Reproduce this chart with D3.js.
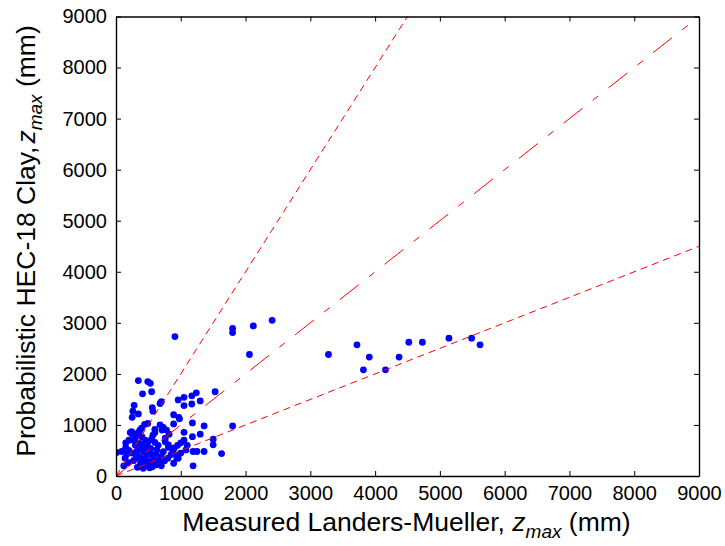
<!DOCTYPE html>
<html>
<head>
<meta charset="utf-8">
<script src="https://cdn.jsdelivr.net/npm/d3@7/dist/d3.min.js"></script>
<style>
  html, body { margin: 0; padding: 0; background: #fff; }
  svg { display: block; font-family: "Liberation Sans", Arial, Helvetica, sans-serif; }
</style>
</head>
<body>
<svg id="chart" width="725" height="546"></svg>
<script>
// Measured (Landers-Mueller) vs probabilistic HEC-18 clay scour depth, mm
const measured = [
  3280, 3720, 3910, 3820, 4160, 4370, 4520, 4730, 5140, 5490, 5620,
  1800, 1800, 2120, 2410, 910, 2060, 1530, 1800, 1630, 1500, 1500, 1360, 1360, 1300, 1180, 1190, 1250, 1190, 1080,
  1240, 1170, 960, 1050, 1300, 1170, 1050, 890, 970, 980, 1180, 890, 1050,
  345, 490, 530, 410, 550, 700, 680, 280, 560, 570, 260, 345, 250, 440, 490, 600, 370, 680, 220, 400, 760, 760, 280, 810, 810, 150, 10, 90, 490, 535, 630, 730, 940, 960, 890, 700, 140, 190, 120,
  395, 360, 330, 240, 710, 600, 570,
  300, 350, 400, 450, 500, 550, 600, 650, 450, 380, 320, 250, 200, 170, 430, 480, 520, 560, 620, 700,
  660, 600, 540, 480, 420, 360, 310, 270, 380, 440, 500, 560, 620, 700, 750, 800, 850, 880, 900, 950,
  1000, 1050, 820, 780, 730, 250, 300, 200, 150, 1100, 1000, 950, 420, 520, 330
];
const predicted = [
  2380, 2570, 2330, 2080, 2080, 2330, 2620, 2620, 2700, 2700, 2570,
  2890, 2810, 2940, 3050, 2730, 2380, 1650, 980, 440, 720, 610, 980, 480, 820, 770, 200, 480, 480, 510,
  1630, 1570, 1490, 1540, 1470, 1410, 1380, 1200, 1150, 1120, 1040, 1020, 855,
  1870, 1850, 1815, 1610, 1650, 1455, 1420, 1385, 1340, 1270, 1270, 1215, 1150, 1010, 1030, 915, 900, 1000, 850, 770, 740, 670, 690, 610, 560, 560, 460, 480, 575, 540, 510, 475, 350, 350, 250, 200, 350, 260, 200,
  935, 870, 835, 870, 900, 850, 800,
  600, 650, 620, 700, 680, 720, 660, 600, 560, 520, 480, 450, 500, 430, 470, 420, 450, 400, 440, 380,
  320, 300, 280, 300, 340, 380, 350, 300, 250, 220, 200, 180, 220, 260, 300, 350, 420, 480, 550, 600,
  650, 700, 820, 900, 950, 820, 760, 700, 650, 600, 450, 400, 150, 160, 170
];

// Reference lines: predicted = ratio * measured
const ratios = [2, 1, 0.5];
const ratioDash = ["7,5", "24,13,7,13", "7,5"];

const xTicks = [0, 1000, 2000, 3000, 4000, 5000, 6000, 7000, 8000, 9000];
const yTicks = [0, 1000, 2000, 3000, 4000, 5000, 6000, 7000, 8000, 9000];

const svg = d3.select("#chart");
const plotL = 116, plotR = 699, plotT = 16.5, plotB = 476;

const x = d3.scaleLinear().domain([0, 9000]).range([plotL, plotR]);
const y = d3.scaleLinear().domain([0, 9000]).range([plotB, plotT]);

svg.append("defs").append("clipPath").attr("id", "plotClip")
  .append("rect").attr("x", plotL).attr("y", plotT)
  .attr("width", plotR - plotL).attr("height", plotB - plotT);

// Scatter points
const pts = measured.map((m, i) => ({ m, p: predicted[i] }));
svg.append("g").attr("clip-path", "url(#plotClip)")
  .selectAll("circle").data(pts).join("circle")
  .attr("cx", d => x(d.m)).attr("cy", d => y(d.p))
  .attr("r", 3.4).attr("fill", "#0000ff");

// Ratio lines
const lineGen = d3.line().x(d => x(d[0])).y(d => y(d[1]));
svg.append("g").attr("clip-path", "url(#plotClip)")
  .selectAll("path").data(ratios).join("path")
  .attr("d", r => lineGen([[0, 0], [9000, 9000 * r]]))
  .attr("fill", "none").attr("stroke", "#ff0000").attr("stroke-width", 1)
  .attr("stroke-dasharray", (r, i) => ratioDash[i]);

// Axes with inward ticks on all four sides
const tickFont = "20px";
const axB = svg.append("g").attr("transform", `translate(0,${plotB})`)
  .call(d3.axisBottom(x).tickValues(xTicks).tickSizeInner(-5).tickSizeOuter(0).tickPadding(10).tickFormat(d3.format("d")));
const axT = svg.append("g").attr("transform", `translate(0,${plotT})`)
  .call(d3.axisTop(x).tickValues(xTicks).tickSizeInner(-5).tickSizeOuter(0).tickFormat(""));
const axL = svg.append("g").attr("transform", `translate(${plotL},0)`)
  .call(d3.axisLeft(y).tickValues(yTicks).tickSizeInner(-5).tickSizeOuter(0).tickPadding(9).tickFormat(d3.format("d")));
const axR = svg.append("g").attr("transform", `translate(${plotR},0)`)
  .call(d3.axisRight(y).tickValues(yTicks).tickSizeInner(-5).tickSizeOuter(0).tickFormat(""));

[axB, axT, axL, axR].forEach(a => {
  a.select(".domain").attr("stroke", "#000").attr("stroke-width", 1.4);
  a.selectAll(".tick line").attr("stroke", "#000").attr("stroke-width", 1);
  a.selectAll("text").attr("fill", "#000").style("font-size", tickFont)
    .style("font-family", "'Liberation Sans', Arial, sans-serif");
});

// Axis titles
const xt = svg.append("text").attr("x", (plotL + plotR) / 2 - 1).attr("y", 531)
  .attr("text-anchor", "middle").style("font-size", "26.5px").attr("fill", "#000");
xt.append("tspan").text("Measured Landers-Mueller, ");
xt.append("tspan").text("z").style("font-style", "italic");
xt.append("tspan").text("max").attr("dy", 7).style("font-size", "19px").style("font-style", "italic");
xt.append("tspan").text(" (mm)").attr("dy", -7);

const yt = svg.append("text")
  .attr("transform", `translate(35,241) rotate(-90)`)
  .attr("text-anchor", "middle").style("font-size", "26.5px").attr("fill", "#000");
yt.append("tspan").text("Probabilistic HEC-18 Clay,");
yt.append("tspan").text("z").attr("dx", 3).style("font-style", "italic");
yt.append("tspan").text("max").attr("dy", 7).style("font-size", "19px").style("font-style", "italic");
yt.append("tspan").text(" (mm)").attr("dy", -7);
</script>
</body>
</html>
